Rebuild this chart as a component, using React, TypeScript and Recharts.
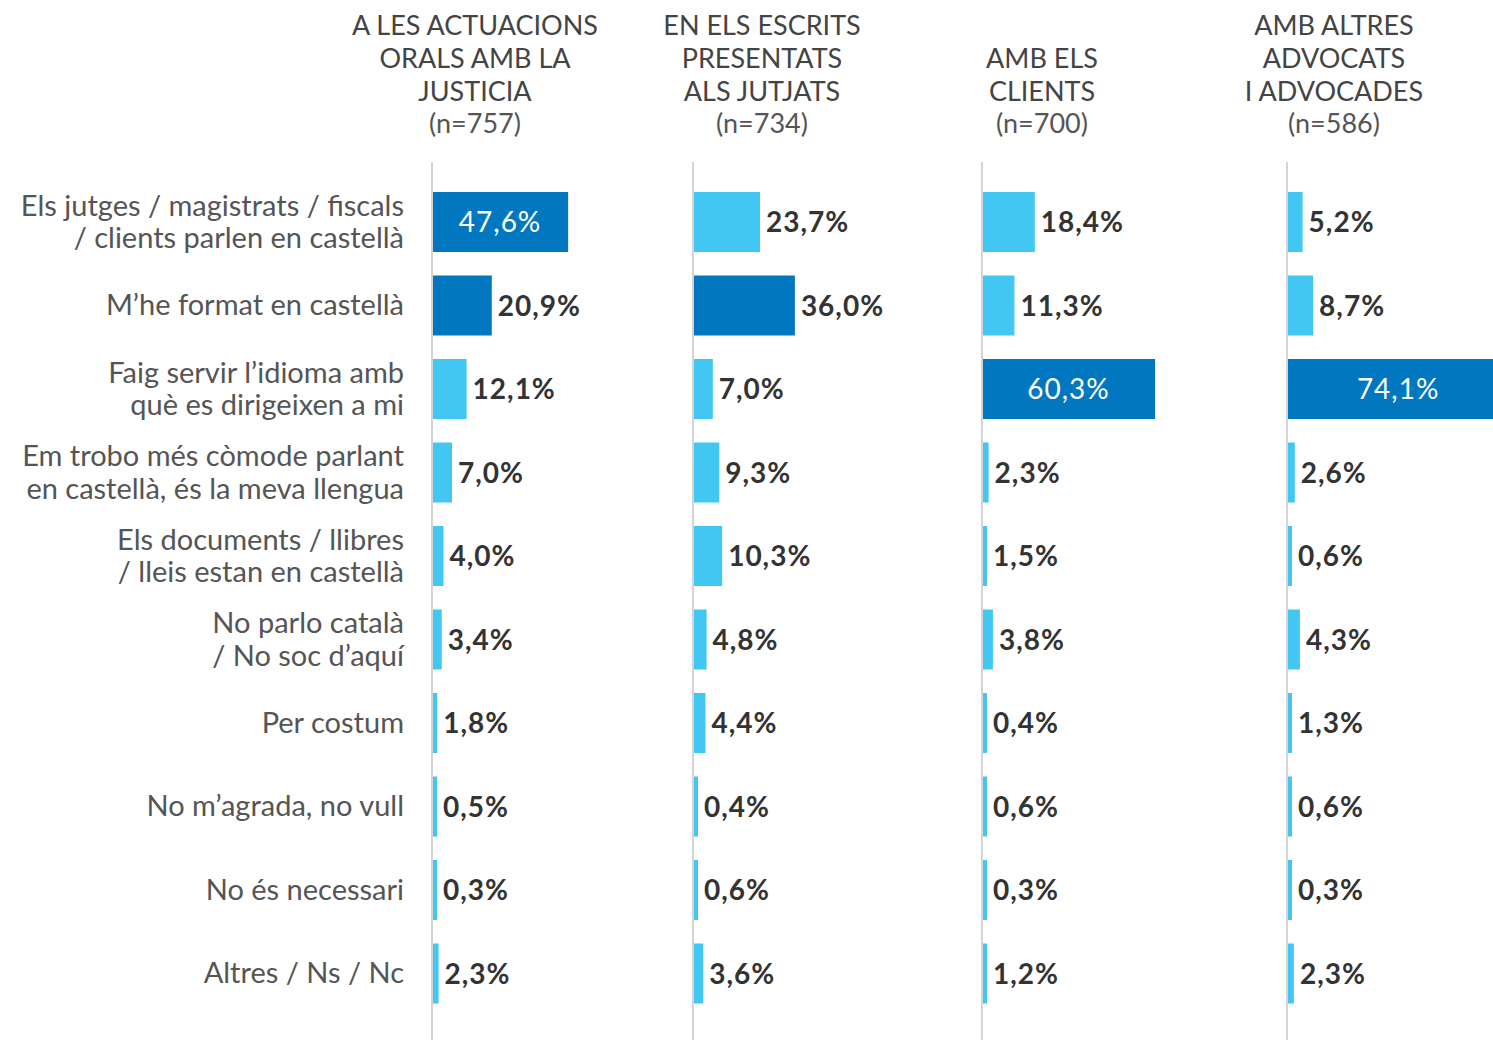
import React from 'react';
import { BarChart, Bar, XAxis, YAxis, Cell, LabelList } from 'recharts';

const categories = [
  'Els jutges / magistrats / fiscals\n/ clients parlen en castellà',
  'M’he format en castellà',
  'Faig servir l’idioma amb\nquè es dirigeixen a mi',
  'Em trobo més còmode parlant\nen castellà, és la meva llengua',
  'Els documents / llibres\n/ lleis estan en castellà',
  'No parlo català\n/ No soc d’aquí',
  'Per costum',
  'No m’agrada, no vull',
  'No és necessari',
  'Altres / Ns / Nc',
];

const panelTitles = [
  ['A LES ACTUACIONS', 'ORALS AMB LA', 'JUSTICIA'],
  ['EN ELS ESCRITS', 'PRESENTATS', 'ALS JUTJATS'],
  ['AMB ELS', 'CLIENTS'],
  ['AMB ALTRES', 'ADVOCATS', 'I ADVOCADES'],
];
const panelN = ['(n=757)', '(n=734)', '(n=700)', '(n=586)'];

const oralValues = [47.6, 20.9, 12.1, 7.0, 4.0, 3.4, 1.8, 0.5, 0.3, 2.3];
const escritsValues = [23.7, 36.0, 7.0, 9.3, 10.3, 4.8, 4.4, 0.4, 0.6, 3.6];
const clientsValues = [18.4, 11.3, 60.3, 2.3, 1.5, 3.8, 0.4, 0.6, 0.3, 1.2];
const advocatsValues = [5.2, 8.7, 74.1, 2.6, 0.6, 4.3, 1.3, 0.6, 0.3, 2.3];
const seriesValues = [oralValues, escritsValues, clientsValues, advocatsValues];

// indices of highlighted (dark) bars and of bars with the label inside
const highlighted = [[0, 1], [1], [2], [2]];
const labelInside = [[0], [], [2], [2]];

// layout
const FONT = 'Lato, "Open Sans", sans-serif';
const DARK = '#0077BE';
const LIGHT = '#41C7F2';
const AXIS_X = [432, 693, 982, 1287];
const PX_PER_PCT = [2.86, 2.83, 2.87, 3.0];
const HEADER_CX = [475, 762, 1042, 1334];
const TOP = 162;
const HEIGHT = 1040 - TOP;

const fmt = (v: number) => v.toFixed(1).replace('.', ',') + '%';

const CategoryTick = (props: any) => {
  const { x, y, payload } = props;
  const lines = String(payload.value).split('\n');
  const lh = 32.5;
  const start = y - ((lines.length - 1) * lh) / 2;
  return (
    <text textAnchor="end" fill="#555" fontSize={29} fontFamily={FONT}>
      {lines.map((l, i) => (
        <tspan key={i} x={x} y={start + i * lh} dy="0.35em">
          {l}
        </tspan>
      ))}
    </text>
  );
};

const makeLabel = (panel: number) => (props: any) => {
  const { x, y, width, height, value, index } = props;
  const inside = labelInside[panel].includes(index);
  if (inside) {
    return (
      <text
        x={x + width / 2}
        y={y + height / 2}
        dy="0.36em"
        textAnchor="middle"
        fill="#fff"
        fontSize={28}
        letterSpacing={1}
        fontFamily={FONT}
      >
        {fmt(value)}
      </text>
    );
  }
  return (
    <text
      x={x + width + 6}
      y={y + height / 2}
      dy="0.36em"
      textAnchor="start"
      fill="#333"
      fontSize={28}
      letterSpacing={1}
      fontWeight="bold"
      fontFamily={FONT}
    >
      {fmt(value)}
    </text>
  );
};

const Panel = ({ panel }: { panel: number }) => {
  const data = categories.map((c, i) => ({ cat: c, value: seriesValues[panel][i] }));
  const first = panel === 0;
  const yWidth = first ? AXIS_X[0] : 1;
  const marginLeft = first ? 0 : 10;
  const plotW = 100 * PX_PER_PCT[panel];
  const width = yWidth + marginLeft + plotW + 10;
  const left = AXIS_X[panel] - yWidth - marginLeft;
  return (
    <div style={{ position: 'absolute', left, top: TOP }}>
      <BarChart
        width={width}
        height={HEIGHT}
        data={data}
        layout="vertical"
        margin={{ top: 0, right: 10, bottom: 0, left: marginLeft }}
        barCategoryGap={0}
        style={{ overflow: 'visible' }}
      >
        <XAxis type="number" domain={[0, 100]} hide />
        <YAxis
          type="category"
          dataKey="cat"
          width={yWidth}
          axisLine={{ stroke: '#d4d4d4', strokeWidth: 2 }}
          tickLine={false}
          tickSize={0}
          tickMargin={28}
          tick={first ? <CategoryTick /> : false}
          padding={{ top: 18, bottom: 25 }}
          interval={0}
        />
        <Bar dataKey="value" barSize={60} minPointSize={5} isAnimationActive={false}>
          {data.map((_, i) => (
            <Cell key={i} fill={highlighted[panel].includes(i) ? DARK : LIGHT} />
          ))}
          <LabelList dataKey="value" content={makeLabel(panel)} />
        </Bar>
      </BarChart>
    </div>
  );
};

const Header = ({ panel }: { panel: number }) => (
  <div
    style={{
      position: 'absolute',
      left: HEADER_CX[panel] - 160,
      width: 320,
      top: 0,
      height: 140,
      display: 'flex',
      flexDirection: 'column',
      justifyContent: 'flex-end',
      alignItems: 'center',
      fontFamily: FONT,
      fontSize: 27,
      color: '#444',
    }}
  >
    {panelTitles[panel].map((t, i) => (
      <div key={i} style={{ lineHeight: '32.7px', whiteSpace: 'nowrap' }}>
        {t}
      </div>
    ))}
    <div style={{ lineHeight: '32.7px', color: '#555', whiteSpace: 'nowrap' }}>{panelN[panel]}</div>
  </div>
);

export default function App() {
  return (
    <div
      style={{
        position: 'absolute',
        left: 0,
        top: 0,
        width: 1493,
        height: 1040,
        overflow: 'hidden',
        background: '#fff',
      }}
    >
      {[0, 1, 2, 3].map((p) => (
        <Header key={'h' + p} panel={p} />
      ))}
      {[0, 1, 2, 3].map((p) => (
        <Panel key={'p' + p} panel={p} />
      ))}
    </div>
  );
}
